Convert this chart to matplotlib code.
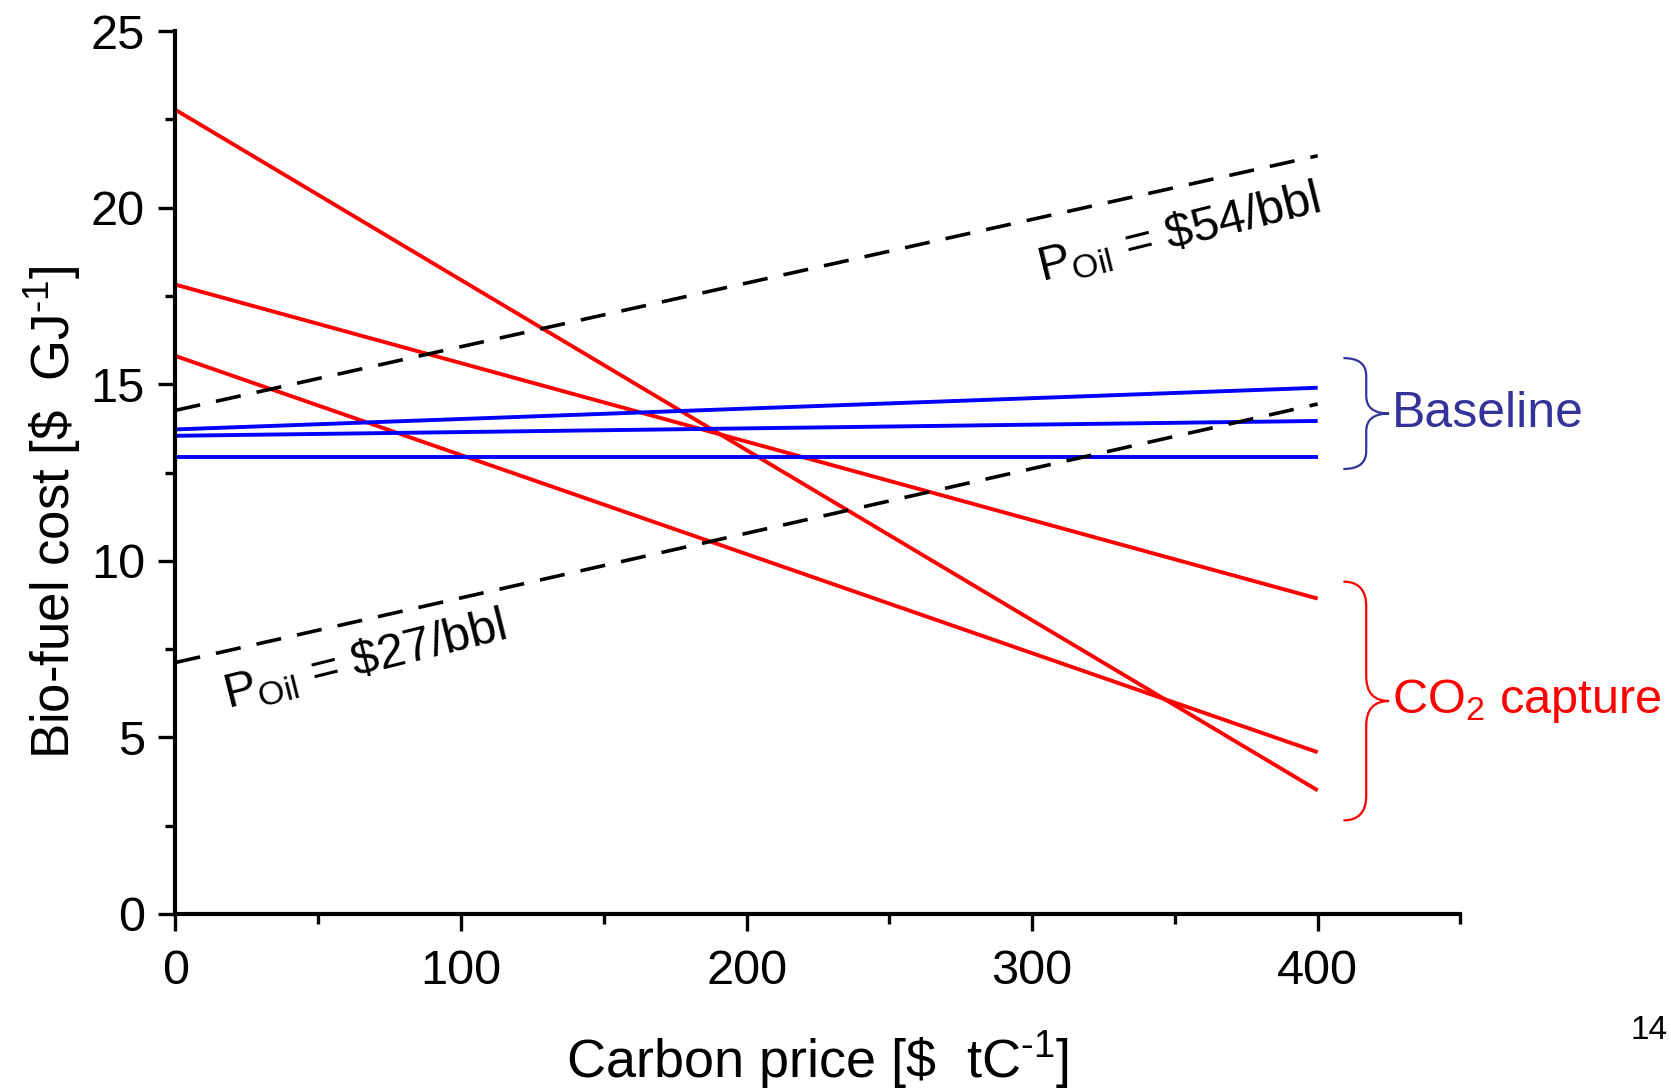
import matplotlib
matplotlib.use("Agg")
import matplotlib.pyplot as plt
from matplotlib.path import Path
from matplotlib.patches import PathPatch
from matplotlib.ticker import MultipleLocator
import numpy as np

# ---- data ----
carbon_price = [0, 400]
capture_1 = [22.77, 3.50]
capture_2 = [17.82, 8.93]
capture_3 = [15.80, 4.58]
baseline_1 = [13.72, 14.90]
baseline_2 = [13.54, 13.96]
baseline_3 = [12.94, 12.94]
oil_54 = [14.26, 21.47]
oil_27 = [7.12, 14.44]
x_ticks = [0, 100, 200, 300, 400]
y_ticks = [0, 5, 10, 15, 20, 25]

plt.rcParams['font.family'] = ['Liberation Sans', 'DejaVu Sans']
plt.rcParams['mathtext.fontset'] = 'custom'
plt.rcParams['mathtext.rm'] = 'Liberation Sans'
plt.rcParams['mathtext.it'] = 'Liberation Sans'
plt.rcParams['mathtext.bf'] = 'Liberation Sans'

fig = plt.figure(figsize=(16.71, 10.90), dpi=100)
ax = fig.add_axes([0.105, 0.1615, 0.769, 0.810])

red = '#ff0000'
blue = '#0000ff'
for ys in (capture_1, capture_2, capture_3):
    ax.plot(carbon_price, ys, color=red, lw=2.8, solid_capstyle='butt')
for ys in (baseline_1, baseline_2, baseline_3):
    ax.plot(carbon_price, ys, color=blue, lw=2.8, solid_capstyle='butt')
for ys in (oil_54, oil_27):
    ax.plot(carbon_price, ys, color='black', lw=2.6, dashes=(7, 4.5))

ax.set_xlim(0, 450)
ax.set_ylim(0, 25)
ax.spines['top'].set_visible(False)
ax.spines['right'].set_visible(False)
for s in ('left', 'bottom'):
    ax.spines[s].set_linewidth(3.0)
ax.set_xticks(x_ticks)
ax.set_yticks(y_ticks)
ax.xaxis.set_minor_locator(MultipleLocator(50))
ax.yaxis.set_minor_locator(MultipleLocator(2.5))
ax.tick_params(which='major', length=12, width=2.4, direction='out')
ax.tick_params(which='minor', length=7, width=2.4, direction='out')
ax.tick_params(axis='x', which='major', pad=13)
ax.tick_params(axis='y', which='major', pad=10)
for lab in ax.get_xticklabels() + ax.get_yticklabels():
    lab.set_fontsize(35)

ax.set_xlabel(r'Carbon price [\$  tC$^{\text{-1}}$]', fontsize=39)
ax.set_ylabel(r'Bio-fuel cost [\$  GJ$^{\text{-1}}$]', fontsize=38)
ax.xaxis.set_label_coords(0.5, -0.131)
ax.yaxis.set_label_coords(-0.072, 0.455)

# oil price labels
ax.text(302, 18.3, r'P$_{\mathregular{Oil}}$ = \$54/bbl', fontsize=35, rotation=14,
        ha='left', va='center', rotation_mode='anchor')
ax.text(17, 6.2, r'P$_{\mathregular{Oil}}$ = \$27/bbl', fontsize=35, rotation=14,
        ha='left', va='center', rotation_mode='anchor')


def brace(ax, x0, xm, xt, ytop, ybot, ymid, r, color):
    verts = [(x0, ytop), (xm, ytop), (xm, ytop - r), (xm, ymid + r), (xm, ymid), (xt, ymid),
             (xt, ymid), (xm, ymid), (xm, ymid - r), (xm, ybot + r), (xm, ybot), (x0, ybot)]
    codes = [Path.MOVETO, Path.CURVE3, Path.CURVE3, Path.LINETO, Path.CURVE3, Path.CURVE3,
             Path.MOVETO, Path.CURVE3, Path.CURVE3, Path.LINETO, Path.CURVE3, Path.CURVE3]
    ax.add_patch(PathPatch(Path(verts, codes), fill=False, edgecolor=color, lw=1.6,
                           clip_on=False))


brace(ax, 409, 417, 425, 15.74, 12.60, 14.17, 0.5, '#333399')
brace(ax, 409, 417, 425, 9.41, 2.65, 6.03, 0.7, red)
ax.text(426, 14.17, 'Baseline', color='#333399', fontsize=36, ha='left', va='center')
ax.text(426, 6.03, r'CO$_{\mathregular{2}}$ capture', color=red, fontsize=35, ha='left',
        va='center')

fig.text(0.998, 0.055, '14', fontsize=24, ha='right', va='center')

fig.savefig('out.png', dpi=100)
